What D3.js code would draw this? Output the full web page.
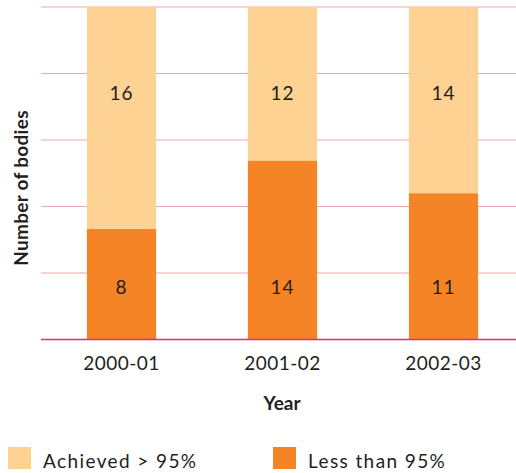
<!DOCTYPE html>
<html>
<head>
<meta charset="utf-8">
<script src="https://cdn.jsdelivr.net/npm/d3@7"></script>
<style>
  body { margin: 0; background: #fff; }
  text { font-family: "Lato", "Open Sans", sans-serif; fill: #231f20; }
</style>
</head>
<body>
<div id="chart"></div>
<script>
'use strict';

// data
var years = ["2000-01", "2001-02", "2002-03"];
var lessThan = [8, 14, 11];      // Less than 95%
var achieved = [16, 12, 14];     // Achieved > 95%
var seriesNames = ["Less than 95%", "Achieved > 95%"];
var seriesColors = ["#f58426", "#fdd292"];

var width = 516, height = 473;
var plot = {left: 41, right: 524, top: 7, bottom: 339.5};

var svg = d3.select("#chart").append("svg")
    .attr("width", width)
    .attr("height", height);

var rows = years.map(function(y, i) {
    var total = lessThan[i] + achieved[i];
    return {year: y, less: lessThan[i], ach: achieved[i],
            lessF: lessThan[i] / total, achF: achieved[i] / total};
});

var x = d3.scaleBand()
    .domain(years)
    .range([plot.left, plot.right])
    .paddingInner(0.57)
    .paddingOuter(0.285);

var y = d3.scaleLinear()
    .domain([0, 1])
    .range([plot.bottom, plot.top]);

// gridlines
svg.append("g")
    .selectAll("line")
    .data(y.ticks(5))
    .enter().append("line")
    .attr("x1", plot.left).attr("x2", width)
    .attr("y1", function(d) { return y(d); })
    .attr("y2", function(d) { return y(d); })
    .attr("stroke", "#eeaaaa")
    .attr("stroke-width", 1.2);

// stacked (100%) bars
var stack = d3.stack().keys(["lessF", "achF"]);
var layers = stack(rows);

svg.append("g")
    .selectAll("g")
    .data(layers)
    .enter().append("g")
    .attr("fill", function(d, i) { return seriesColors[i]; })
    .selectAll("rect")
    .data(function(d) { return d; })
    .enter().append("rect")
    .attr("x", function(d) { return x(d.data.year); })
    .attr("width", x.bandwidth())
    .attr("y", function(d) { return y(d[1]); })
    .attr("height", function(d) { return y(d[0]) - y(d[1]); });

// value labels sit at fixed heights in the original
svg.append("g")
    .selectAll("text")
    .data(rows)
    .enter().append("text")
    .attr("x", function(d) { return x(d.year) + x.bandwidth() / 2; })
    .attr("y", y(0.158))
    .attr("dy", "0.35em")
    .attr("text-anchor", "middle")
    .style("font-size", "19px")
    .style("letter-spacing", "1px")
    .text(function(d) { return d.less; });

svg.append("g")
    .selectAll("text")
    .data(rows)
    .enter().append("text")
    .attr("x", function(d) { return x(d.year) + x.bandwidth() / 2; })
    .attr("y", y(0.741))
    .attr("dy", "0.35em")
    .attr("text-anchor", "middle")
    .style("font-size", "19px")
    .style("letter-spacing", "1px")
    .text(function(d) { return d.ach; });

// baseline
svg.append("line")
    .attr("x1", plot.left).attr("x2", width)
    .attr("y1", plot.bottom).attr("y2", plot.bottom)
    .attr("stroke", "#e0306a")
    .attr("stroke-width", 1.5);

// x axis labels
var xAxis = svg.append("g")
    .attr("transform", "translate(0," + plot.bottom + ")")
    .call(d3.axisBottom(x).tickSize(0).tickPadding(17));
xAxis.select(".domain").remove();
xAxis.selectAll("text")
    .style("font-size", "19px")
    .style("letter-spacing", "0.5px")
    .style("font-family", "Lato, 'Open Sans', sans-serif")
    .attr("fill", "#231f20");

// axis titles
svg.append("text")
    .attr("x", 282)
    .attr("y", 410)
    .attr("text-anchor", "middle")
    .style("font-size", "19px")
    .style("font-weight", "bold")
    .text("Year");

svg.append("text")
    .attr("transform", "translate(28,188) rotate(-90)")
    .attr("text-anchor", "middle")
    .style("font-size", "19px")
    .style("font-weight", "bold")
    .style("letter-spacing", "0.3px")
    .text("Number of bodies");

// legend
var legendItems = [
    {name: seriesNames[1], color: seriesColors[1], x: 8},
    {name: seriesNames[0], color: seriesColors[0], x: 273}
];
var lg = svg.append("g").selectAll("g")
    .data(legendItems)
    .enter().append("g")
    .attr("transform", function(d) { return "translate(" + d.x + ",447)"; });
lg.append("rect")
    .attr("width", 23).attr("height", 22)
    .attr("fill", function(d) { return d.color; });
lg.append("text")
    .attr("x", 35)
    .attr("y", 21)
    .style("font-size", "19px")
    .style("letter-spacing", "1.4px")
    .text(function(d) { return d.name; });
</script>
</body>
</html>
